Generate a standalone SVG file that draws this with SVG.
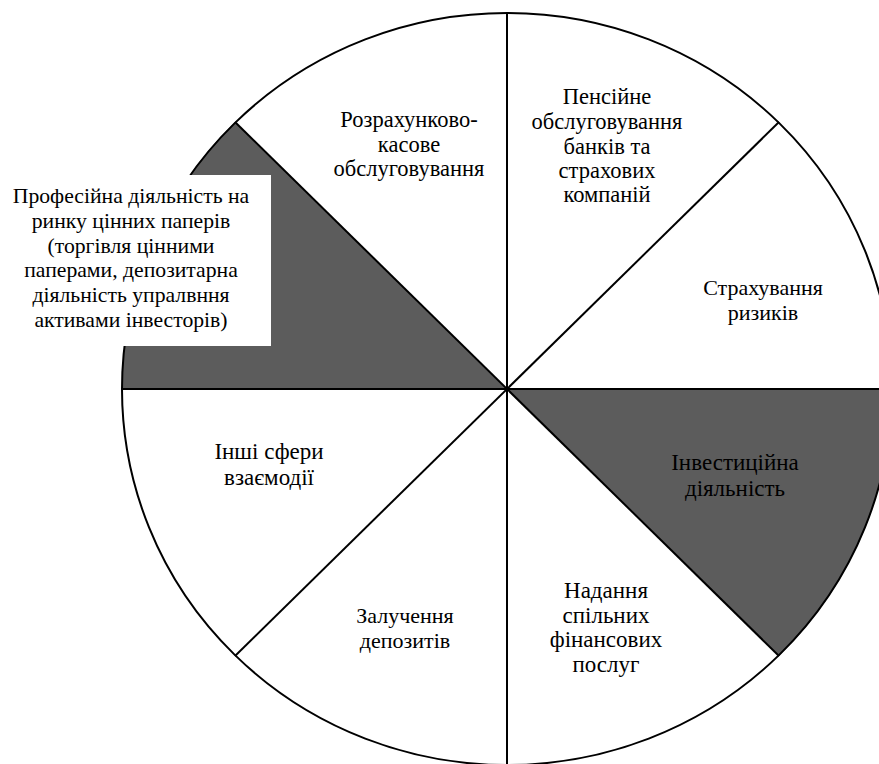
<svg xmlns="http://www.w3.org/2000/svg" width="879" height="764" viewBox="0 0 879 764">
<style>
.ln{stroke:#000;stroke-width:2;fill:none}
.dk{fill:#5c5c5c;stroke:none}
</style>
<rect width="879" height="764" fill="#fff"/>
<g id="sectors">
<path class="dk" d="M507,389 L122,389 A385,376 0 0 1 235,122 Z"/>
<path class="dk" d="M507,389 L892,389 A385,376 0 0 1 779,656 Z"/>
</g>
<g id="connectors">
<ellipse class="ln" cx="507" cy="389" rx="385" ry="376"/>
<line class="ln" x1="507" y1="13" x2="507" y2="765"/>
<line class="ln" x1="122" y1="389" x2="892" y2="389"/>
<line class="ln" x1="235" y1="122" x2="779" y2="656"/>
<line class="ln" x1="779" y1="122" x2="235" y2="656"/>
</g>
<g id="n1" font-family="Liberation Serif" font-size="22.5" text-anchor="middle">
<text x="409" y="127">Розрахунково-</text>
<text x="409" y="152">касове</text>
<text x="409" y="176">обслуговування</text>
</g>
<g id="n2" font-family="Liberation Serif" font-size="22.5" text-anchor="middle">
<text x="607" y="104">Пенсійне</text>
<text x="607" y="129">обслуговування</text>
<text x="607" y="154">банків та</text>
<text x="607" y="178">страхових</text>
<text x="607" y="202">компаній</text>
</g>
<g id="n3" font-family="Liberation Serif" font-size="22" text-anchor="middle">
<text x="763" y="295">Страхування</text>
<text x="763" y="320">ризиків</text>
</g>
<g id="n4" font-family="Liberation Serif" font-size="23" text-anchor="middle">
<text x="735" y="470">Інвестиційна</text>
<text x="735" y="496">діяльність</text>
</g>
<g id="n5" font-family="Liberation Serif" font-size="23" text-anchor="middle">
<text x="606" y="598">Надання</text>
<text x="606" y="623">спільних</text>
<text x="606" y="647">фінансових</text>
<text x="606" y="672">послуг</text>
</g>
<g id="n6" font-family="Liberation Serif" font-size="22" text-anchor="middle">
<text x="405" y="623">Залучення</text>
<text x="405" y="648">депозитів</text>
</g>
<g id="n7" font-family="Liberation Serif" font-size="23" text-anchor="middle">
<text x="269" y="459">Інші сфери</text>
<text x="269" y="485">взаємодії</text>
</g>
<g id="n8" font-family="Liberation Serif" font-size="21.7" text-anchor="middle">
<rect x="0" y="175" width="271" height="171" fill="#fff"/>
<text x="131" y="203">Професійна діяльність на</text>
<text x="131" y="228">ринку цінних паперів</text>
<text x="131" y="253">(торгівля цінними</text>
<text x="131" y="277">паперами, депозитарна</text>
<text x="131" y="302">діяльність упралвння</text>
<text x="131" y="327">активами інвесторів)</text>
</g>
</svg>
